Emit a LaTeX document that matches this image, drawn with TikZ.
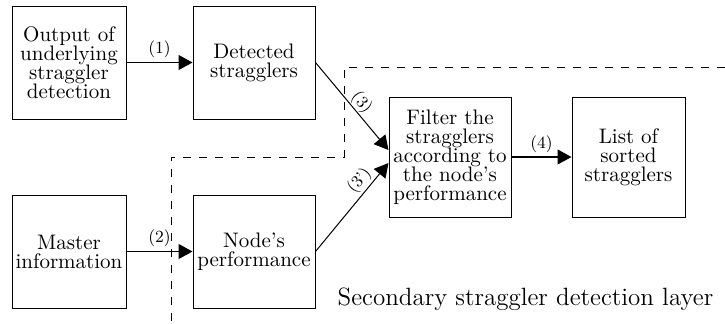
\documentclass[tikz,border=0pt]{standalone}
\usetikzlibrary{arrows.meta,calc}
\begin{document}
\begin{tikzpicture}[x=0.5pt,y=-0.5pt,
  box/.style={draw,line width=0.5pt,align=center,inner sep=0pt,
    font=\fontsize{10.5}{9.5}\selectfont},
  arr/.style={draw,line width=0.6pt,-{Triangle[length=7pt,width=7.5pt]}},
  elab/.style={font=\fontsize{8.5}{9}\selectfont,inner sep=2pt},
  layer/.style={draw,line width=0.5pt,dash pattern=on 4pt off 4pt}]
\useasboundingbox (0,0) rectangle (725,323);
\node[box,minimum width=57pt,minimum height=56.5pt] (out) at (69,62.5) {Output of\\underlying\\straggler\\detection};
\node[box,minimum width=61pt,minimum height=56.5pt] (det) at (254,62.5) {Detected\\stragglers};
\node[box,minimum width=57pt,minimum height=56.5pt] (mas) at (69,251.5) {Master\\information};
\node[box,minimum width=61pt,minimum height=56.5pt] (perf) at (254,251.5) {Node's\\performance};
\node[box,minimum width=61pt,minimum height=60pt] (fil) at (450,157) {Filter the\\stragglers\\according to\\the node's\\performance};
\node[box,minimum width=56.5pt,minimum height=60pt] (lst) at (628.5,157) {List of\\sorted\\stragglers};
\node[font=\fontsize{12.5}{14}\selectfont] (lay) at (525.5,299) {Secondary straggler detection layer};
\path[layer] (725,67) -- (344,67) -- (344,157) -- (171,157) -- (171,323);
\path[arr] (out.east) -- node[elab,above]{(1)} (det.west);
\path[arr] (mas.east) -- node[elab,above]{(2)} (perf.west);
\path[arr] (fil.east) -- node[elab,above]{(4)} (lst.west);
\path[arr,line width=0.5pt] (det.east) -- node[elab,above,sloped,pos=0.53,inner sep=0.3pt]{(3)} ($(fil.west)+(0,-7)$);
\path[arr,line width=0.5pt] (perf.east) -- node[elab,above,sloped,pos=0.72,inner sep=1pt]{(3')} ($(fil.west)+(0,6)$);
\end{tikzpicture}
\end{document}
